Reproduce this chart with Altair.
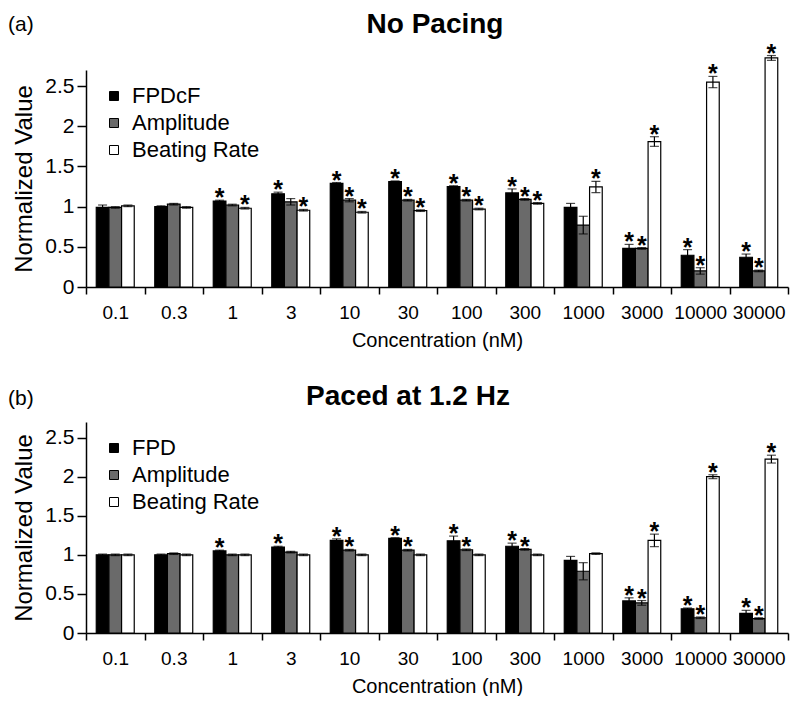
import altair as alt
import pandas as pd

conc = ["0.1", "0.3", "1", "3", "10", "30", "100", "300", "1000", "3000", "10000", "30000"]

# Panel (a): No Pacing
a_series = ["FPDcF", "Amplitude", "Beating Rate"]
a_fpd = [0.99, 1.00, 1.07, 1.16, 1.29, 1.31, 1.25, 1.17, 0.99, 0.48, 0.395, 0.37]
a_amp = [0.99, 1.03, 1.02, 1.06, 1.08, 1.08, 1.08, 1.09, 0.77, 0.48, 0.20, 0.20]
a_beat = [1.01, 0.99, 0.98, 0.955, 0.93, 0.95, 0.97, 1.04, 1.245, 1.81, 2.55, 2.85]
a_fpd_err = [0.03, 0.01, 0.01, 0.02, 0.01, 0.01, 0.01, 0.05, 0.05, 0.05, 0.07, 0.04]
a_amp_err = [0.01, 0.01, 0.01, 0.04, 0.02, 0.01, 0.01, 0.01, 0.11, 0.01, 0.04, 0.01]
a_beat_err = [0.01, 0.01, 0.01, 0.01, 0.01, 0.01, 0.01, 0.01, 0.07, 0.06, 0.07, 0.03]
a_fpd_star = [0, 0, 1, 1, 1, 1, 1, 1, 0, 1, 1, 1]
a_amp_star = [0, 0, 0, 0, 1, 1, 1, 1, 0, 1, 1, 1]
a_beat_star = [0, 0, 1, 1, 1, 1, 1, 1, 1, 1, 1, 1]

# Panel (b): Paced at 1.2 Hz
b_series = ["FPD", "Amplitude", "Beating Rate"]
b_fpd = [1.00, 1.00, 1.05, 1.10, 1.185, 1.21, 1.18, 1.11, 0.93, 0.41, 0.31, 0.25]
b_amp = [1.00, 1.015, 1.00, 1.035, 1.06, 1.06, 1.065, 1.07, 0.79, 0.385, 0.195, 0.185]
b_beat = [1.00, 1.00, 1.00, 1.00, 1.00, 1.00, 1.00, 1.00, 1.015, 1.185, 2.00, 2.225]
b_fpd_err = [0.01, 0.01, 0.01, 0.01, 0.02, 0.01, 0.06, 0.04, 0.05, 0.04, 0.01, 0.04]
b_amp_err = [0.01, 0.01, 0.01, 0.01, 0.01, 0.01, 0.01, 0.01, 0.11, 0.03, 0.01, 0.01]
b_beat_err = [0.01, 0.01, 0.01, 0.01, 0.01, 0.01, 0.01, 0.01, 0.01, 0.08, 0.025, 0.05]
b_fpd_star = [0, 0, 1, 1, 1, 1, 1, 1, 0, 1, 1, 1]
b_amp_star = [0, 0, 0, 0, 1, 1, 1, 1, 0, 1, 1, 1]
b_beat_star = [0, 0, 0, 0, 0, 0, 0, 0, 0, 1, 1, 1]

FILLS = ["#000000", "#6a6a6a", "#ffffff"]
FONT = "Liberation Sans"
WIDTH = 702


def make_df(series, vals, errs, stars):
    rows = []
    for s, v, e, st in zip(series, vals, errs, stars):
        for c, vv, ee, ss in zip(conc, v, e, st):
            rows.append({"conc": c, "series": s, "value": vv,
                         "lo": vv - ee, "hi": vv + ee, "star": ss})
    return pd.DataFrame(rows)


def panel(df, series, title, tag, height, title_x, title_y, tag_y):
    yax = alt.Axis(values=[0, 0.5, 1, 1.5, 2, 2.5], format="~g", grid=False,
                   domainColor="black", tickColor="black", tickSize=9,
                   domainWidth=1.5, tickWidth=1.5,
                   labelFontSize=21, labelColor="black", labelPadding=3,
                   titleFontSize=24, titleFontWeight="normal", titleColor="black",
                   titlePadding=8)
    ysc = alt.Scale(domain=[0, 2.7], nice=False)
    xenc = alt.X("conc:N", sort=conc, scale=alt.Scale(paddingInner=0, paddingOuter=0),
                 axis=alt.Axis(title="Concentration (nM)", labelAngle=0, tickBand="extent",
                               tickSize=7, tickColor="black", domainColor="black",
                               domainWidth=1.5, tickWidth=1.5, labelOverlap=False,
                               labelFontSize=19, labelColor="black", labelPadding=9,
                               titleFontSize=20, titleFontWeight="normal",
                               titleColor="black", titlePadding=8))
    xoff = alt.XOffset("series:N", sort=series,
                       scale=alt.Scale(paddingInner=0, paddingOuter=0.81))
    base = alt.Chart(df).encode(x=xenc, xOffset=xoff)
    bars = base.mark_bar(stroke="black", strokeWidth=1.2).encode(
        y=alt.Y("value:Q", scale=ysc, axis=yax, title="Normalized Value"),
        fill=alt.Fill("series:N", sort=series,
                      scale=alt.Scale(domain=series, range=FILLS),
                      legend=alt.Legend(orient="none", legendX=17, legendY=15,
                                        title=None, symbolType="square", symbolSize=81,
                                        symbolStrokeColor="black", symbolStrokeWidth=1,
                                        symbolOpacity=1, labelFontSize=22,
                                        labelColor="black", labelOffset=7,
                                        rowPadding=5, padding=0)))
    err = base.mark_rule(color="black", strokeWidth=1.2).encode(
        y=alt.Y("lo:Q", scale=ysc, title="Normalized Value"), y2="hi:Q")
    cap_lo = base.mark_tick(color="black", thickness=1.2, size=9).encode(
        y=alt.Y("lo:Q", scale=ysc, title="Normalized Value"))
    cap_hi = base.mark_tick(color="black", thickness=1.2, size=9).encode(
        y=alt.Y("hi:Q", scale=ysc, title="Normalized Value"))
    stars = base.mark_text(text="*", fontSize=25, fontWeight="bold", color="black",
                           baseline="alphabetic", dy=6).encode(
        y=alt.Y("hi:Q", scale=ysc, title="Normalized Value")
    ).transform_filter("datum.star == 1")
    lab = pd.DataFrame({"t": [tag], "title": [title]})
    tag_chart = alt.Chart(lab).mark_text(
        fontSize=21, color="black", align="left", baseline="middle").encode(
        text="t:N", x=alt.value(-78), y=alt.value(tag_y))
    title_chart = alt.Chart(lab).mark_text(
        fontSize=28, fontWeight="bold", color="black", align="center",
        baseline="alphabetic").encode(
        text="title:N", x=alt.value(title_x), y=alt.value(title_y))
    return alt.layer(bars, err, cap_lo, cap_hi, stars, tag_chart, title_chart).properties(
        width=WIDTH, height=height)


df_a = make_df(a_series, [a_fpd, a_amp, a_beat], [a_fpd_err, a_amp_err, a_beat_err],
               [a_fpd_star, a_amp_star, a_beat_star])
df_b = make_df(b_series, [b_fpd, b_amp, b_beat], [b_fpd_err, b_amp_err, b_beat_err],
               [b_fpd_star, b_amp_star, b_beat_star])

top = panel(df_a, a_series, "No Pacing", "(a)", 217, 349, -37, -45)
bottom = panel(df_b, b_series, "Paced at 1.2 Hz", "(b)", 211, 322, -17, -23)

chart = alt.vconcat(top, bottom, spacing=33).resolve_scale(
    x="independent", y="independent", fill="independent", xOffset="independent"
).resolve_legend(fill="independent").configure(
    font=FONT, padding={"left": 8, "top": 11, "right": 2, "bottom": 0}, background="white"
).configure_view(stroke=None)

chart.save("out.html", embed_options={"renderer": "svg", "actions": False})
